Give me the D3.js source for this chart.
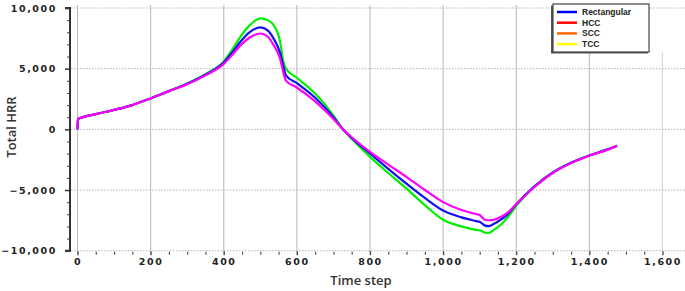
<!DOCTYPE html>
<html><head><meta charset="utf-8">
<script src="https://cdn.jsdelivr.net/npm/d3@7"></script>
<style>
html,body{margin:0;padding:0;background:#fff;}
svg{display:block;}
.tick-label{font-family:"DejaVu Sans";font-weight:bold;font-size:9.5px;letter-spacing:1.6px;fill:#222;}
.axis-title{font-family:"Open Sans";font-weight:600;font-size:13px;fill:#333;}
.legend-text{font-family:"Liberation Sans";font-weight:bold;font-size:8.5px;fill:#222;}
</style></head>
<body><svg id="chart" width="685" height="291"></svg>
<script>
// ---- data ----
const timeSteps = [0, 1, 50, 100, 150, 200, 250, 300, 350, 400, 425, 445, 470, 500, 520, 536, 554, 563, 570, 600, 650, 700, 726, 750, 800, 850, 900, 950, 1000, 1050, 1090, 1101, 1115, 1125, 1138, 1160, 1174, 1202, 1250, 1300, 1350, 1400, 1450, 1476];
const greenHRR   = [0, 850, 1250, 1600, 2000, 2550, 3150, 3780, 4550, 5600, 6650, 7600, 8550, 9150, 9000, 8600, 7250, 5600, 5000, 4250, 2950, 1150, 0, -780, -2270, -3600, -4890, -6250, -7450, -8000, -8280, -8320, -8520, -8530, -8300, -7800, -7350, -6240, -4700, -3550, -2750, -2150, -1650, -1340];
const blueHRR    = [0, 850, 1250, 1600, 2000, 2550, 3150, 3750, 4500, 5500, 6400, 7200, 8000, 8400, 8150, 7500, 6300, 5200, 4450, 3800, 2600, 1000, 0, -700, -1990, -3250, -4480, -5650, -6690, -7250, -7560, -7640, -7930, -7970, -7800, -7400, -7070, -6100, -4700, -3550, -2750, -2150, -1650, -1340];
const magentaHRR = [0, 850, 1250, 1600, 2000, 2550, 3150, 3720, 4450, 5400, 6200, 6900, 7550, 7900, 7650, 6950, 5850, 4700, 4020, 3450, 2300, 850, 0, -650, -1860, -2900, -3930, -5000, -6000, -6650, -6980, -7080, -7470, -7490, -7450, -7180, -6930, -6100, -4750, -3600, -2780, -2170, -1670, -1350];
const seriesColors = ["#00ee00", "#1010f0", "#ff00ff"];
const legendLabels = ["Rectangular", "HCC", "SCC", "TCC"];
const legendColors = ["#0000ff", "#ff0000", "#ff6a00", "#ffff00"];
const xTickValues = [0, 200, 400, 600, 800, 1000, 1200, 1400, 1600];
const yTickValues = [10000, 5000, 0, -5000, -10000];

// ---- layout ----
const svg = d3.select("#chart");
const x = d3.scaleLinear().domain([0, 1600]).range([77.5, 662.5]);
const y = d3.scaleLinear().domain([-10000, 10000]).range([250.7, 8]);
const fmt = d3.format(",");

// vertical grid lines
svg.append("g").selectAll("line").data(xTickValues).join("line")
  .attr("x1", d => x(d)).attr("x2", d => x(d))
  .attr("y1", d => d === 1600 ? 52 : 5).attr("y2", 255)
  .attr("stroke", d => d === 1600 ? "#d8d8d8" : "#bdbdbd").attr("stroke-width", 1.1);

// horizontal dotted grid lines
svg.append("g").selectAll("line").data(yTickValues).join("line")
  .attr("x1", 71).attr("x2", 685)
  .attr("y1", d => y(d)).attr("y2", d => y(d))
  .attr("stroke", "#b4b4b4").attr("stroke-width", 1).attr("stroke-dasharray", "1.5,1.5");

// y axis
const yAxis = d3.axisLeft(y).tickValues(yTickValues).tickFormat(fmt).tickSize(5).tickPadding(8);
const yg = svg.append("g").attr("transform", "translate(70,0)").call(yAxis);
yg.select(".domain").attr("stroke", "#333").attr("stroke-width", 2).attr("d", `M-5,${y(10000)}H0V${y(-10000)}H-5`);
yg.selectAll(".tick line").attr("stroke", "#333").attr("stroke-width", 1.5);
yg.selectAll(".tick text").attr("class", "tick-label").attr("font-family", null).attr("font-size", null).attr("fill", null);
const yMinor = d3.axisLeft(y).tickValues(d3.range(-9000, 10000, 1000).filter(v => v % 5000 !== 0)).tickFormat("").tickSize(3);
const ymg = svg.append("g").attr("transform", "translate(70,0)").call(yMinor);
ymg.select(".domain").remove();
ymg.selectAll(".tick line").attr("stroke", "#444").attr("stroke-width", 1);

// x axis
const xAxis = d3.axisBottom(x).tickValues(xTickValues).tickFormat(fmt).tickSize(4).tickPadding(3);
const xg = svg.append("g").attr("transform", `translate(0,${y(-10000) + 0.5})`).call(xAxis);
xg.select(".domain").remove();
xg.selectAll(".tick line").attr("stroke", "#444").attr("stroke-width", 1.2);
xg.selectAll(".tick text").attr("class", "tick-label").attr("font-family", null).attr("font-size", null).attr("fill", null);
const xMinor = d3.axisBottom(x).tickValues(d3.range(50, 1600, 50).filter(v => v % 200 !== 0)).tickFormat("").tickSize(3);
const xmg = svg.append("g").attr("transform", `translate(0,${y(-10000) + 1})`).call(xMinor);
xmg.select(".domain").remove();
xmg.selectAll(".tick line").attr("stroke", "#555").attr("stroke-width", 1.2);

// axis titles
svg.append("text").attr("class", "axis-title").attr("text-anchor", "middle")
  .attr("transform", "translate(16,127) rotate(-90)").text("Total HRR");
svg.append("text").attr("class", "axis-title").attr("text-anchor", "middle")
  .attr("x", 361).attr("y", 285).text("Time step");

// lines
const series = [greenHRR, blueHRR, magentaHRR];
const line = d3.line().x((d, i) => x(timeSteps[i])).y(d => y(d)).curve(d3.curveMonotoneX);
svg.append("g").selectAll("path").data(series).join("path")
  .attr("d", d => line(d)).attr("fill", "none")
  .attr("stroke", (d, i) => seriesColors[i]).attr("stroke-width", 2.2)
  .attr("stroke-linejoin", "round");

// legend
const lg = svg.append("g");
lg.append("rect").attr("x", 551).attr("y", 5.5).attr("width", 97).attr("height", 48).attr("fill", "#555");
lg.append("rect").attr("x", 553).attr("y", 4).attr("width", 96).attr("height", 48)
  .attr("fill", "#fff").attr("stroke", "#444").attr("stroke-width", 1.2);
legendLabels.forEach((lab, i) => {
  const yy = 12 + i * 10.7;
  lg.append("line").attr("x1", 557).attr("x2", 577).attr("y1", yy).attr("y2", yy)
    .attr("stroke", legendColors[i]).attr("stroke-width", 2.5);
  lg.append("text").attr("class", "legend-text").attr("x", 582).attr("y", yy + 3).text(lab);
});
</script></body></html>
